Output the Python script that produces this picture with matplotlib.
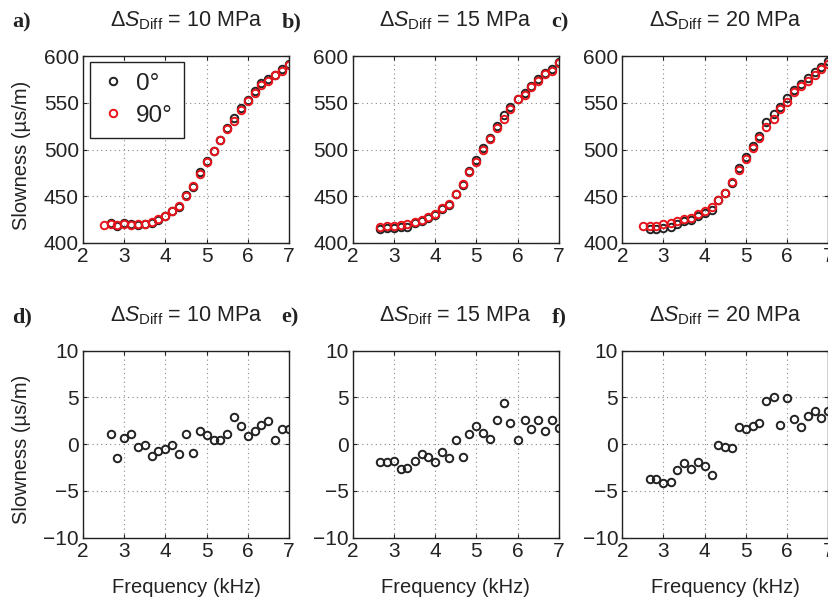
import matplotlib
matplotlib.use("Agg")
import matplotlib.pyplot as plt

plt.rcParams['font.family'] = ['Liberation Sans', 'DejaVu Sans']
plt.rcParams['mathtext.fontset'] = 'custom'
plt.rcParams['mathtext.rm'] = 'Liberation Sans'
plt.rcParams['mathtext.it'] = 'Liberation Sans:italic'
plt.rcParams['axes.unicode_minus'] = True

# ---------------- data ----------------
freq_full = [2.50, 2.67, 2.83, 3.00, 3.17, 3.33, 3.50, 3.67, 3.83, 4.00, 4.17, 4.33, 4.50, 4.67,
             4.83, 5.00, 5.17, 5.33, 5.50, 5.67, 5.83, 6.00, 6.17, 6.33, 6.50, 6.67, 6.83, 7.00]
freq = freq_full[1:]

# Panel a (10 MPa)
a_90 = [419.3, 420.0, 419.3, 420.7, 419.3, 420.0, 420.0, 422.9, 425.7, 429.3, 434.3, 440.0, 450.0, 460.7,
        474.3, 486.4, 497.9, 510.0, 521.4, 530.7, 542.1, 552.1, 560.7, 568.6, 572.9, 579.3, 584.0, 590.0]
a_0 = [421.1, 417.8, 421.4, 420.4, 419.7, 419.9, 421.6, 425.0, 428.8, 434.2, 438.9, 451.1, 459.8,
       475.7, 487.4, 498.3, 510.5, 522.5, 533.6, 544.1, 553.0, 562.1, 570.7, 575.4, 579.8, 585.6, 591.6]

# Panel b (15 MPa)
b_90 = [417.1, 417.9, 417.9, 419.3, 420.0, 422.9, 425.0, 427.9, 431.4, 437.1, 442.1, 452.1, 462.9,
        476.4, 487.1, 500.0, 511.4, 522.9, 532.1, 543.6, 553.6, 557.9, 566.4, 572.9, 580.7, 583.6, 592.1]
b_0 = [415.2, 416.0, 416.1, 416.7, 417.5, 421.1, 423.9, 426.5, 429.5, 436.3, 440.6, 452.5, 461.5,
       477.5, 489.1, 501.2, 512.0, 525.5, 536.5, 545.9, 554.0, 560.5, 568.0, 575.5, 582.1, 586.2, 593.8]

# Panel c (20 MPa)
c_90 = [417.9, 418.6, 418.6, 420.0, 421.4, 423.6, 425.7, 427.1, 430.7, 434.3, 438.6, 445.7, 453.6, 465.0,
        477.9, 490.0, 501.4, 512.1, 524.3, 532.9, 543.6, 550.7, 561.4, 567.9, 573.6, 579.3, 585.7, 591.4]
c_0 = [414.9, 414.9, 415.9, 417.4, 420.8, 423.7, 424.4, 428.8, 432.0, 435.3, 445.6, 453.3, 464.6,
       479.7, 491.6, 503.4, 514.4, 528.9, 537.9, 545.7, 555.6, 564.1, 569.7, 576.6, 582.9, 588.5, 594.9]

# Differences (0 deg - 90 deg)
d_diff = [1.1, -1.5, 0.7, 1.1, -0.3, -0.1, -1.3, -0.7, -0.5, -0.1, -1.1, 1.1, -0.9, 1.4,
          1.0, 0.4, 0.5, 1.1, 2.9, 2.0, 0.9, 1.4, 2.1, 2.5, 0.5, 1.6, 1.6]
e_diff = [-1.9, -1.9, -1.8, -2.6, -2.5, -1.8, -1.1, -1.4, -1.9, -0.8, -1.5, 0.4, -1.4, 1.1,
          2.0, 1.2, 0.6, 2.6, 4.4, 2.3, 0.4, 2.6, 1.6, 2.6, 1.4, 2.6, 1.7]
f_diff = [-3.7, -3.7, -4.1, -4.0, -2.8, -2.0, -2.7, -1.9, -2.3, -3.3, -0.1, -0.3, -0.4, 1.8,
          1.6, 2.0, 2.3, 4.6, 5.0, 2.1, 4.9, 2.7, 1.8, 3.0, 3.6, 2.8, 3.5]

pressures = ['10', '15', '20']
top_labels = ['a)', 'b)', 'c)']
bot_labels = ['d)', 'e)', 'f)']
x_ticks = [2, 3, 4, 5, 6, 7]
top_yticks = [400, 450, 500, 550, 600]
bot_yticks = [-10, -5, 0, 5, 10]
legend_labels = ['0°', '90°']

top_data = [(freq_full, a_90, freq, a_0), (freq_full[1:], b_90, freq, b_0), (freq_full, c_90, freq, c_0)]
bot_data = [d_diff, e_diff, f_diff]

# ---------------- figure ----------------
W, H = 829, 600
fig = plt.figure(figsize=(W / 100, H / 100), dpi=100)

lefts = [83, 352.7, 622.3]
aw = 206
ah = 187
top_top = 56
bot_top = 350.7

ink = '#222222'
red = '#e8141c'
mk = dict(marker='o', ls='none', mfc='none', ms=5.4, mew=1.4)

def style(ax, yticks, ylim):
    ax.set_xlim(2, 7)
    ax.set_ylim(*ylim)
    ax.set_xticks(x_ticks)
    ax.set_yticks(yticks)
    ax.tick_params(direction='in', length=3, width=0.8, labelsize=15, pad=3, top=True, right=True,
                   colors=ink)
    ax.grid(True, ls=(0, (1, 3)), color='#888888', lw=0.8)
    for s in ax.spines.values():
        s.set_linewidth(1.0)
        s.set_color(ink)

def title(ax, p):
    ax.text(0.5, 1.158, r'$\Delta S_{\mathrm{Diff}}$' + f' = {p} MPa', transform=ax.transAxes,
            ha='center', va='baseline', fontsize=15.5, color=ink)

for i in range(3):
    ax = fig.add_axes([lefts[i] / W, 1 - (top_top + ah) / H, aw / W, ah / H])
    f90, v90, f0, v0 = top_data[i]
    ax.plot(f0, v0, mec=ink, label=legend_labels[0], **mk)
    ax.plot(f90, v90, mec=red, label=legend_labels[1], **mk)
    style(ax, top_yticks, (400, 600))
    title(ax, pressures[i])
    fig.text((lefts[i] - 71) / W, 1 - 27.5 / H, top_labels[i], family='Liberation Serif',
             fontweight='bold', fontsize=16, va='baseline', ha='left', color=ink)
    if i == 0:
        ax.set_ylabel('Slowness (µs/m)', fontsize=14.5, color=ink)
        ax.yaxis.set_label_coords(-0.25, 0.47)
        leg = ax.legend(loc='upper left', bbox_to_anchor=(0.034, 0.968), fontsize=17.5, frameon=True,
                        fancybox=False, edgecolor=ink, framealpha=1, handlelength=1.0,
                        handletextpad=0.45, borderpad=0.45, labelspacing=0.4, markerscale=1.0,
                        borderaxespad=0)
        leg.get_frame().set_linewidth(1.0)
        for t in leg.get_texts():
            t.set_color(ink)

for i in range(3):
    ax = fig.add_axes([lefts[i] / W, 1 - (bot_top + ah) / H, aw / W, ah / H])
    ax.plot(freq, bot_data[i], mec=ink, **mk)
    style(ax, bot_yticks, (-10, 10))
    title(ax, pressures[i])
    fig.text((lefts[i] - 71) / W, 1 - 322.5 / H, bot_labels[i], family='Liberation Serif',
             fontweight='bold', fontsize=16, va='baseline', ha='left', color=ink)
    ax.set_xlabel('Frequency (kHz)', fontsize=14.5, color=ink)
    ax.xaxis.set_label_coords(0.5, -0.215)
    if i == 0:
        ax.set_ylabel('Slowness (µs/m)', fontsize=14.5, color=ink)
        ax.yaxis.set_label_coords(-0.25, 0.47)

fig.savefig('out.png', dpi=100)
